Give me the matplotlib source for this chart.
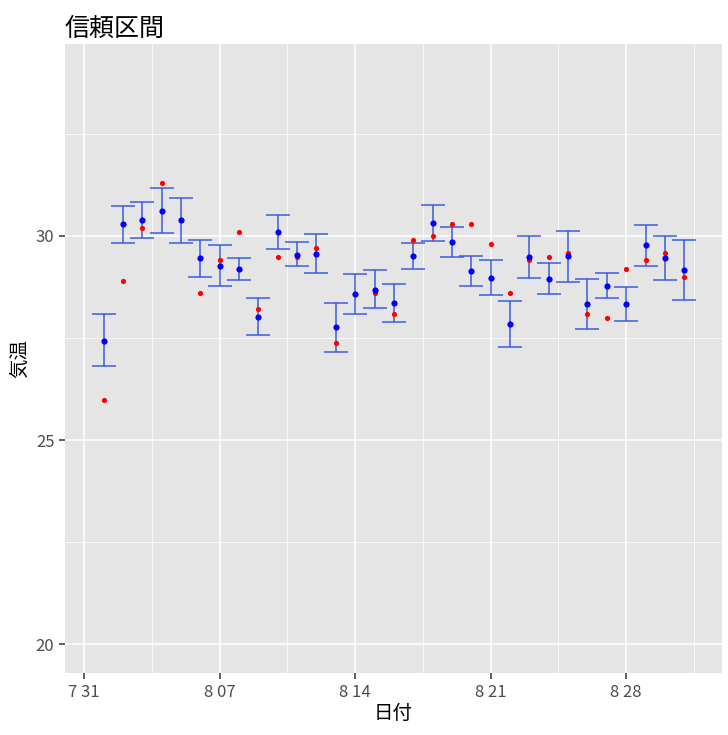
import datetime as dt
import matplotlib
matplotlib.use("Agg")
import matplotlib.pyplot as plt
import matplotlib.dates as mdates
from matplotlib.ticker import FixedLocator

plt.rcParams['font.family'] = ['Noto Sans CJK JP', 'DejaVu Sans']

# daily data, Aug 1 .. Aug 31
days = list(range(1, 32))
mean = [27.44, 30.29, 30.38, 30.62, 30.38, 29.45, 29.26, 29.20, 28.02, 30.11,
        29.54, 29.56, 27.76, 28.57, 28.68, 28.36, 29.50, 30.32, 29.86, 29.14,
        28.98, 27.85, 29.48, 28.95, 29.50, 28.34, 28.78, 28.33, 29.77, 29.46,
        29.17]
upper = [28.08, 30.74, 30.83, 31.17, 30.92, 29.90, 29.77, 29.47, 28.49, 30.52,
         29.85, 30.04, 28.35, 29.07, 29.16, 28.82, 29.82, 30.77, 30.22, 29.52,
         29.42, 28.42, 29.99, 29.33, 30.13, 28.95, 29.09, 28.75, 30.27, 29.99,
         29.91]
lower = [26.81, 29.83, 29.94, 30.07, 29.82, 28.99, 28.77, 28.93, 27.57, 29.69,
         29.26, 29.09, 27.17, 28.08, 28.23, 27.90, 29.20, 29.87, 29.49, 28.77,
         28.55, 27.28, 28.97, 28.57, 28.87, 27.73, 28.48, 27.92, 29.27, 28.91,
         28.43]
observed = [25.99, 28.90, 30.20, 31.30, 30.38, 28.60, 29.40, 30.10, 28.20, 29.49,
            29.49, 29.70, 27.39, 28.57, 28.60, 28.09, 29.89, 30.00, 30.30, 30.30,
            29.80, 28.60, 29.40, 29.49, 29.59, 28.09, 28.00, 29.20, 29.40, 29.59,
            28.99]

dates = [dt.datetime(2023, 8, d) for d in days]
x = mdates.date2num(dates)

fig = plt.figure(figsize=(7.28, 7.35), dpi=100)
ax = fig.add_axes([0.089, 0.084, 0.903, 0.856])
ax.set_facecolor('#E5E5E5')
for s in ax.spines.values():
    s.set_visible(False)

# error bars
err_low = [m - l for m, l in zip(mean, lower)]
err_up = [u - m for m, u in zip(mean, upper)]
ax.errorbar(x, mean, yerr=[err_low, err_up], fmt='none', ecolor='#3355DD',
            alpha=0.8, elinewidth=1.3, capsize=8.5, capthick=1.3, zorder=3)
ax.scatter(x, observed, s=14, color='red', zorder=4, linewidths=0)
ax.scatter(x, mean, s=20, color='blue', zorder=5, linewidths=0)

x0 = mdates.date2num(dt.datetime(2023, 7, 30, 0))
x1 = mdates.date2num(dt.datetime(2023, 9, 1, 23))
ax.set_xlim(x0, x1)
ax.set_ylim(19.29, 34.7)

major_dates = [dt.datetime(2023, 7, 31) + dt.timedelta(days=7 * i) for i in range(5)]
ax.xaxis.set_major_locator(FixedLocator(mdates.date2num(major_dates)))
ax.xaxis.set_minor_locator(FixedLocator(mdates.date2num(
    [d + dt.timedelta(days=3.5) for d in major_dates])))
ax.set_xticklabels([f"{d.month} {d.day:02d}" if d.month == 8 else f"{d.month} {d.day}"
                    for d in major_dates])
ax.yaxis.set_major_locator(FixedLocator([20, 25, 30]))
ax.yaxis.set_minor_locator(FixedLocator([22.5, 27.5, 32.5]))

ax.grid(which='major', color='white', linewidth=1.1)
ax.grid(which='minor', color='white', linewidth=0.55)
ax.set_axisbelow(True)
ax.tick_params(which='major', length=4, width=1.1, color='#333333',
               labelcolor='#4D4D4D', labelsize=12)
ax.tick_params(which='minor', length=0)

ax.set_xlabel('日付', fontsize=14, labelpad=2)
ax.set_ylabel('気温', fontsize=14, labelpad=4)
ax.set_title('信頼区間', fontsize=18, loc='left', pad=6)

fig.savefig('out.png', dpi=100)
